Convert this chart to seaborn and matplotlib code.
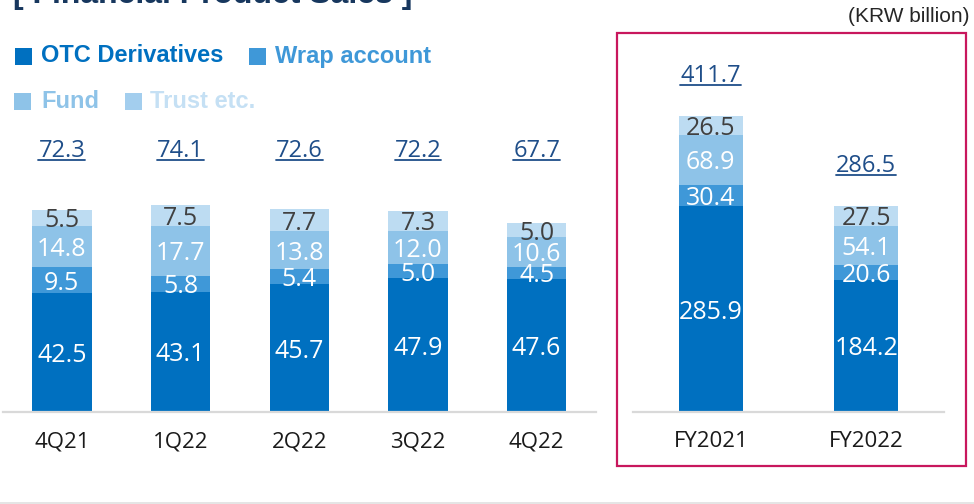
"""
Financial product sales - stacked bars, quarterly vs. full year.
"""

import matplotlib
matplotlib.use("Agg")
import numpy as np
import pandas as pd
import matplotlib.pyplot as plt
import matplotlib.transforms as mtransforms
from matplotlib.patches import Rectangle
from matplotlib.lines import Line2D
import seaborn as sns

# data
quarters = ["4Q21", "1Q22", "2Q22", "3Q22", "4Q22"]
q_otc = [42.5, 43.1, 45.7, 47.9, 47.6]
q_wrap = [9.5, 5.8, 5.4, 5.0, 4.5]
q_fund = [14.8, 17.7, 13.8, 12.0, 10.6]
q_trust = [5.5, 7.5, 7.7, 7.3, 5.0]
q_total = [72.3, 74.1, 72.6, 72.2, 67.7]

years = ["FY2021", "FY2022"]
y_otc = [285.9, 184.2]
y_wrap = [30.4, 20.6]
y_fund = [68.9, 54.1]
y_trust = [26.5, 27.5]
y_total = [411.7, 286.5]

series_names = ["OTC Derivatives", "Wrap account", "Fund", "Trust etc."]

BAR_COLORS = ["#0070C0", "#3F98D8", "#8EC3E8", "#BDDCF2"]
VALUE_COLORS = ["white", "white", "white", "#404040"]
LEGEND_TEXT = ["#0070C0", "#3F98D8", "#8EC3E8", "#C5E0F4"]
LEGEND_BOX = ["#0070C0", "#3F98D8", "#8EC3E8", "#A3CEEE"]
TOTAL_COLOR = "#1F4E89"
NUM_FONT = "Open Sans"

W, H = 974, 504

sns.set_style("white")
plt.rcParams["font.family"] = ["Liberation Sans", "DejaVu Sans"]


def fx(px):
    return px / W


def fy(py):
    # pixel from top -> figure fraction
    return 1 - py / H


def draw_stack(ax, cats, layers, width):
    """Stacked bars drawn as overlaid cumulative bars."""
    cum = np.cumsum(np.array(layers), axis=0)
    for i in range(len(layers) - 1, -1, -1):
        df = pd.DataFrame({"cat": cats, "val": cum[i]})
        sns.barplot(data=df, x="cat", y="val", order=cats, color=BAR_COLORS[i],
                    saturation=1, width=width, errorbar=None, linewidth=0, ax=ax)
    for i, layer in enumerate(layers):
        mids = cum[i] - np.array(layer) / 2
        for x, (m, v) in enumerate(zip(mids, layer)):
            ax.text(x, m, f"{v:.1f}", ha="center", va="center_baseline",
                    color=VALUE_COLORS[i], fontsize=18, family=NUM_FONT)


def style_axis(ax):
    ax.set_xlabel("")
    ax.set_ylabel("")
    ax.set_yticks([])
    for side in ["top", "left", "right"]:
        ax.spines[side].set_visible(False)
    ax.spines["bottom"].set_color("#D9D9D9")
    ax.spines["bottom"].set_linewidth(1.6)
    ax.tick_params(axis="x", length=0, pad=14, labelsize=16, labelcolor="#1A1A1A")
    for lab in ax.get_xticklabels():
        lab.set_family(NUM_FONT)
    ax.set_facecolor("none")


fig = plt.figure(figsize=(W / 100, H / 100), dpi=100)

# quarterly panel
ax_q = fig.add_axes([fx(2.5), 1 - 412 / H, fx(593.5), 293 / H])
draw_stack(ax_q, quarters, [q_otc, q_wrap, q_fund, q_trust], 0.5)
ax_q.set_xlim(-0.5, len(quarters) - 0.5)
ax_q.set_ylim(0, 293 / 2.79)
style_axis(ax_q)

# yearly panel
ax_y = fig.add_axes([fx(633), 1 - 412 / H, fx(311), 372 / H])
draw_stack(ax_y, years, [y_otc, y_wrap, y_fund, y_trust], 0.41)
ax_y.set_xlim(-0.5, len(years) - 0.5)
ax_y.set_ylim(0, 372 / 0.719)
style_axis(ax_y)

# totals
totals = []
trans_q = mtransforms.blended_transform_factory(ax_q.transData, ax_q.transAxes)
for x, t in enumerate(q_total):
    totals.append(ax_q.text(x, 0.90, f"{t:.1f}", transform=trans_q, ha="center",
                            va="center_baseline", color=TOTAL_COLOR, fontsize=17,
                            family=NUM_FONT))
for x, t in enumerate(y_total):
    totals.append(ax_y.text(x, t + 60, f"{t:.1f}", ha="center", va="center_baseline",
                            color=TOTAL_COLOR, fontsize=17, family=NUM_FONT))

# highlight box around the yearly panel
fig.add_artist(Rectangle((fx(617), fy(466)), fx(349), 433 / H, transform=fig.transFigure,
                         fill=False, edgecolor="#C8175D", linewidth=1.6))

# bottom rule
fig.add_artist(Line2D([0, 1], [fy(502.5)] * 2, transform=fig.transFigure,
                      color="#E0E0E0", linewidth=1.2))

# title (cut off at the top edge) and unit
fig.text(fx(13), fy(3.5), "[ Financial Product Sales ]", ha="left", va="baseline",
         fontsize=23, fontweight="bold", color="#17375E")
fig.text(fx(970), fy(16), "(KRW billion)", ha="right", va="center", fontsize=15,
         color="#262626")

# legend written as coloured text
legend_pos = [(15, 41, 56), (249, 275, 56), (14, 41, 101), (125, 150, 101)]
for i, name in enumerate(series_names):
    bx, tx, cy = legend_pos[i]
    fig.add_artist(Rectangle((fx(bx), fy(cy + 8.5)), fx(17), 17 / H,
                             transform=fig.transFigure, color=LEGEND_BOX[i], linewidth=0))
    fig.text(fx(tx), fy(cy), name, ha="left", va="center", fontsize=17,
             fontweight="bold", color=LEGEND_TEXT[i])

# underline the totals
fig.canvas.draw()
renderer = fig.canvas.get_renderer()
for t in totals:
    bb = t.get_window_extent(renderer)
    yl = (bb.y0 + 3) / H
    fig.add_artist(Line2D([bb.x0 / W, bb.x1 / W], [yl, yl], transform=fig.transFigure,
                          color=TOTAL_COLOR, linewidth=1.3))

fig.savefig("out.png", dpi=100)
